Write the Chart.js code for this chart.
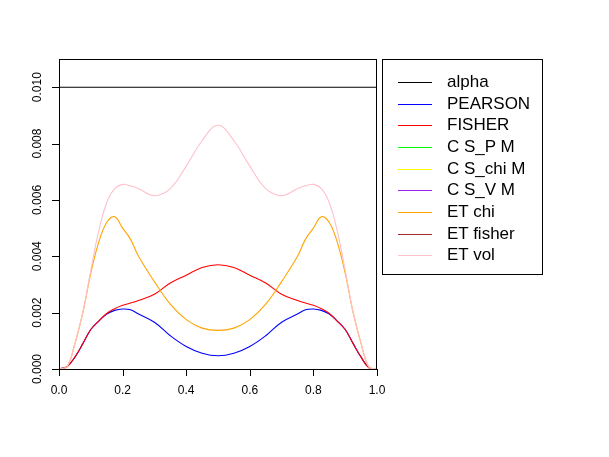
<!DOCTYPE html>
<html>
<head>
<meta charset="utf-8">
<script src="https://cdn.jsdelivr.net/npm/chart.js@4"></script>
<style>
  body { margin: 0; background: #fff; }
  #wrap { position: relative; width: 609px; height: 457px; }
  #legend {
    position: absolute; left: 382px; top: 59px; width: 159px; height: 214px;
    border: 1px solid #000; font-family: "Liberation Sans", Arial, sans-serif; font-size: 17px;
  }
  .row { position: absolute; left: 0; width: 150px; height: 20px; line-height: 20px; }
  .row .ln { position: absolute; left: 15px; top: 10px; width: 34px; height: 1px; }
  .row .tx { position: absolute; left: 64px; top: 0; white-space: nowrap; color: #000; }
</style>
</head>
<body>
<div id="wrap">
  <canvas id="chart" width="609" height="457"></canvas>
  <div id="legend"></div>
</div>
<script>
// x grid shared by all curves
const xs = [0, 0.025, 0.05, 0.075, 0.1, 0.125, 0.15, 0.175, 0.2, 0.225, 0.25, 0.3, 0.35, 0.4, 0.45, 0.5,
            0.55, 0.6, 0.65, 0.7, 0.75, 0.775, 0.8, 0.825, 0.85, 0.875, 0.9, 0.925, 0.95, 0.975, 1];

const alphaLevel = 0.01;

const pearson = [0, 0.00008, 0.00042, 0.0009, 0.0014, 0.0017, 0.00195, 0.00208, 0.00213, 0.0021, 0.00195, 0.00166, 0.00118, 0.0008, 0.00056, 0.00047,
                 0.00056, 0.0008, 0.00118, 0.00166, 0.00195, 0.0021, 0.00213, 0.00208, 0.00195, 0.0017, 0.0014, 0.0009, 0.00042, 0.00004, 0];
const fisher  = [0, 0.00008, 0.00042, 0.0009, 0.0014, 0.0017, 0.00197, 0.00214, 0.00226, 0.00234, 0.00243, 0.00265, 0.00305, 0.00333, 0.0036, 0.0037,
                 0.0036, 0.00333, 0.00305, 0.00265, 0.00243, 0.00234, 0.00226, 0.00214, 0.00197, 0.0017, 0.0014, 0.0009, 0.00042, 0.00004, 0];
const etChi   = [0, 0.00008, 0.0009, 0.002, 0.0034, 0.0045, 0.0052, 0.0054, 0.005, 0.0046, 0.004, 0.0031, 0.0023, 0.00175, 0.00145, 0.00137,
                 0.00145, 0.00175, 0.0023, 0.0031, 0.004, 0.0046, 0.005, 0.0054, 0.0052, 0.0045, 0.0034, 0.002, 0.0009, 0.00006, 0];
const etVol   = [0, 0.00008, 0.0009, 0.002, 0.0035, 0.0049, 0.0059, 0.0064, 0.00655, 0.0065, 0.0064, 0.00615, 0.0064, 0.0072, 0.0081, 0.00865,
                 0.0081, 0.0072, 0.0064, 0.00615, 0.0064, 0.0065, 0.00655, 0.0064, 0.0059, 0.0049, 0.0035, 0.002, 0.0009, 0.00006, 0];
// the other methods lie exactly under the visible curves
const csPM   = etChi;
const csChiM = etVol;
const csVM   = etChi;
const etFisher = etVol;

const names  = ['alpha', 'PEARSON', 'FISHER', 'C S_P M', 'C S_chi M', 'C S_V M', 'ET chi', 'ET fisher', 'ET vol'];
const colors = ['#000000', '#0000FF', '#FF0000', '#00FF00', '#FFFF00', '#A020F0', '#FFA500', '#A52A2A', '#FFC0CB'];
const series = [null, pearson, fisher, csPM, csChiM, csVM, etChi, etFisher, etVol];
const covered = [false, false, false, true, true, true, false, true, false];

const xTicks = [0, 0.2, 0.4, 0.6, 0.8, 1];
const xTickLabels = ['0.0', '0.2', '0.4', '0.6', '0.8', '1.0'];
const yTicks = [0, 0.002, 0.004, 0.006, 0.008, 0.010];
const yTickLabels = ['0.000', '0.002', '0.004', '0.006', '0.008', '0.010'];

const FONT = '"Liberation Sans", Arial, sans-serif';

const datasets = names.map((name, i) => {
    let data;
    if (i === 0) {
        data = [{ x: 0, y: alphaLevel }, { x: 1, y: alphaLevel }];
    } else {
        data = xs.map((x, k) => ({ x: x, y: series[i][k] }));
    }
    return {
        label: name,
        data: data,
        borderColor: colors[i],
        borderWidth: 1.1,
        pointRadius: 0,
        fill: false,
        tension: 0.4,
        hidden: covered[i],          // drawn over by later curves in the original
        order: names.length - i      // later series on top, like R's drawing order
    };
});

// box, tick marks and tick labels drawn R-style
const rAxes = {
    id: 'rAxes',
    afterDraw(chart) {
        const ctx = chart.ctx;
        const a = chart.chartArea;
        const sx = chart.scales.x;
        const sy = chart.scales.y;
        ctx.save();
        ctx.strokeStyle = '#000';
        ctx.lineWidth = 1;
        ctx.strokeRect(Math.round(a.left) + 0.5, Math.round(a.top) + 0.5,
                       Math.round(a.right - a.left) - 1, Math.round(a.bottom - a.top));
        ctx.beginPath();
        xTicks.forEach(v => {
            const px = Math.round(sx.getPixelForValue(v)) + 0.5;
            ctx.moveTo(px, a.bottom);
            ctx.lineTo(px, a.bottom + 7);
        });
        yTicks.forEach(v => {
            const py = Math.round(sy.getPixelForValue(v)) + 0.5;
            ctx.moveTo(a.left, py);
            ctx.lineTo(a.left - 7, py);
        });
        ctx.stroke();

        ctx.fillStyle = '#000';
        ctx.font = '12px ' + FONT;
        ctx.textAlign = 'center';
        ctx.textBaseline = 'middle';
        xTicks.forEach((v, i) => {
            ctx.fillText(xTickLabels[i], sx.getPixelForValue(v), a.bottom + 22);
        });
        yTicks.forEach((v, i) => {
            ctx.save();
            ctx.translate(a.left - 21, sy.getPixelForValue(v));
            ctx.rotate(-Math.PI / 2);
            ctx.fillText(yTickLabels[i], 0, 0);
            ctx.restore();
        });
        ctx.restore();
    }
};

new Chart(document.getElementById('chart'), {
    type: 'line',
    data: { datasets: datasets },
    options: {
        responsive: false,
        animation: false,
        devicePixelRatio: 1,
        layout: { padding: { left: 0, top: 59, right: 232, bottom: 0 } },
        plugins: { legend: { display: false }, tooltip: { enabled: false } },
        scales: {
            x: {
                type: 'linear', min: 0, max: 1,
                grid: { display: false }, border: { display: false },
                ticks: { display: false },
                afterBuildTicks: s => { s.ticks = xTicks.map(v => ({ value: v })); },
                afterFit: s => { s.height = 88; }
            },
            y: {
                type: 'linear', min: 0, max: 0.011,
                grid: { display: false }, border: { display: false },
                ticks: { display: false },
                afterBuildTicks: s => { s.ticks = yTicks.map(v => ({ value: v })); },
                afterFit: s => { s.width = 59; }
            }
        }
    },
    plugins: [rAxes]
});

// legend box on the right
const legend = document.getElementById('legend');
names.forEach((name, i) => {
    const row = document.createElement('div');
    row.className = 'row';
    row.style.top = Math.round(12 + 21.66 * i) + 'px';
    const ln = document.createElement('span');
    ln.className = 'ln';
    ln.style.backgroundColor = colors[i];
    const tx = document.createElement('span');
    tx.className = 'tx';
    tx.textContent = name;
    row.appendChild(ln);
    row.appendChild(tx);
    legend.appendChild(row);
});
</script>
</body>
</html>
